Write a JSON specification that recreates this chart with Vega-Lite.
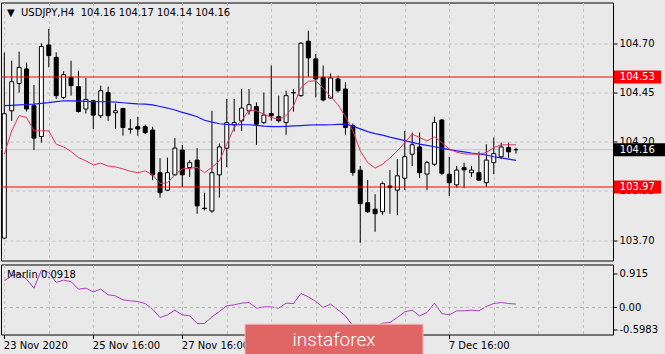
{
  "$schema": "https://vega.github.io/schema/vega-lite/v6.json",
  "background": "#e9e9e9",
  "padding": {"left": 0, "top": 1.5, "right": 4, "bottom": 0},
  "spacing": 2,
  "config": {
    "view": {"stroke": "#000000", "strokeWidth": 1},
    "font": "DejaVu Sans",
    "axis": {"labelFont": "DejaVu Sans", "labelFontSize": 10, "labelColor": "#000000", "tickColor": "#000000", "gridColor": "#c2c2c2", "gridDash": [3, 3], "domain": false}
  },
  "datasets": {
    "candles": [
      {"i":0,"o":103.710,"h":104.654,"l":103.705,"c":104.343,"blue":104.384,"red":104.137,"m":0.711},
      {"i":1,"o":104.358,"h":104.613,"l":104.307,"c":104.506,"blue":104.386,"red":104.256,"m":0.844},
      {"i":2,"o":104.497,"h":104.659,"l":104.451,"c":104.579,"blue":104.388,"red":104.333,"m":0.907},
      {"i":3,"o":104.571,"h":104.604,"l":104.354,"c":104.367,"blue":104.390,"red":104.324,"m":0.756},
      {"i":4,"o":104.384,"h":104.489,"l":104.158,"c":104.219,"blue":104.392,"red":104.256,"m":0.516},
      {"i":5,"o":104.227,"h":104.702,"l":104.196,"c":104.685,"blue":104.396,"red":104.256,"m":0.996},
      {"i":6,"o":104.693,"h":104.775,"l":104.579,"c":104.639,"blue":104.400,"red":104.256,"m":0.933},
      {"i":7,"o":104.630,"h":104.656,"l":104.418,"c":104.435,"blue":104.405,"red":104.188,"m":0.667},
      {"i":8,"o":104.426,"h":104.559,"l":104.418,"c":104.542,"blue":104.409,"red":104.174,"m":0.729},
      {"i":9,"o":104.528,"h":104.613,"l":104.435,"c":104.486,"blue":104.408,"red":104.151,"m":0.693},
      {"i":10,"o":104.481,"h":104.562,"l":104.350,"c":104.354,"blue":104.407,"red":104.120,"m":0.489},
      {"i":11,"o":104.367,"h":104.525,"l":104.344,"c":104.416,"blue":104.406,"red":104.103,"m":0.516},
      {"i":12,"o":104.409,"h":104.412,"l":104.265,"c":104.336,"blue":104.405,"red":104.083,"m":0.418},
      {"i":13,"o":104.333,"h":104.486,"l":104.321,"c":104.460,"blue":104.404,"red":104.091,"m":0.489},
      {"i":14,"o":104.451,"h":104.481,"l":104.307,"c":104.333,"blue":104.404,"red":104.077,"m":0.338},
      {"i":15,"o":104.348,"h":104.395,"l":104.265,"c":104.358,"blue":104.402,"red":104.072,"m":0.311},
      {"i":16,"o":104.370,"h":104.372,"l":104.231,"c":104.273,"blue":104.399,"red":104.062,"m":0.204},
      {"i":17,"o":104.266,"h":104.316,"l":104.242,"c":104.264,"blue":104.396,"red":104.050,"m":0.178},
      {"i":18,"o":104.277,"h":104.328,"l":104.231,"c":104.265,"blue":104.393,"red":104.043,"m":0.160},
      {"i":19,"o":104.277,"h":104.287,"l":104.239,"c":104.247,"blue":104.392,"red":104.052,"m":0.107},
      {"i":20,"o":104.260,"h":104.277,"l":104.005,"c":104.032,"blue":104.388,"red":104.032,"m":-0.044},
      {"i":21,"o":104.043,"h":104.117,"l":103.916,"c":103.941,"blue":104.380,"red":103.987,"m":-0.267},
      {"i":22,"o":103.954,"h":104.120,"l":103.950,"c":104.043,"blue":104.372,"red":103.992,"m":-0.196},
      {"i":23,"o":104.032,"h":104.219,"l":104.027,"c":104.168,"blue":104.362,"red":104.032,"m":-0.071},
      {"i":24,"o":104.158,"h":104.185,"l":103.970,"c":104.032,"blue":104.350,"red":104.062,"m":-0.196},
      {"i":25,"o":104.069,"h":104.107,"l":104.021,"c":104.094,"blue":104.340,"red":104.065,"m":-0.222},
      {"i":26,"o":104.107,"h":104.168,"l":103.834,"c":103.874,"blue":104.328,"red":104.070,"m":-0.427},
      {"i":27,"o":103.862,"h":103.941,"l":103.851,"c":103.860,"blue":104.310,"red":104.043,"m":-0.427},
      {"i":28,"o":103.848,"h":104.358,"l":103.839,"c":104.043,"blue":104.300,"red":104.070,"m":-0.249},
      {"i":29,"o":104.032,"h":104.191,"l":103.916,"c":104.174,"blue":104.292,"red":104.103,"m":-0.107},
      {"i":30,"o":104.168,"h":104.418,"l":104.072,"c":104.298,"blue":104.289,"red":104.188,"m":0.044},
      {"i":31,"o":104.287,"h":104.418,"l":104.253,"c":104.298,"blue":104.288,"red":104.273,"m":0.071},
      {"i":32,"o":104.307,"h":104.469,"l":104.256,"c":104.372,"blue":104.287,"red":104.307,"m":0.116},
      {"i":33,"o":104.358,"h":104.469,"l":104.338,"c":104.389,"blue":104.287,"red":104.362,"m":0.133},
      {"i":34,"o":104.379,"h":104.401,"l":104.185,"c":104.290,"blue":104.284,"red":104.358,"m":-0.018},
      {"i":35,"o":104.298,"h":104.451,"l":104.290,"c":104.336,"blue":104.280,"red":104.341,"m":0.018},
      {"i":36,"o":104.344,"h":104.588,"l":104.307,"c":104.333,"blue":104.277,"red":104.324,"m":0.018},
      {"i":37,"o":104.328,"h":104.435,"l":104.298,"c":104.307,"blue":104.277,"red":104.316,"m":-0.018},
      {"i":38,"o":104.298,"h":104.460,"l":104.236,"c":104.435,"blue":104.279,"red":104.333,"m":0.116},
      {"i":39,"o":104.449,"h":104.469,"l":104.354,"c":104.451,"blue":104.281,"red":104.384,"m":0.107},
      {"i":40,"o":104.435,"h":104.707,"l":104.430,"c":104.702,"blue":104.283,"red":104.477,"m":0.373},
      {"i":41,"o":104.712,"h":104.766,"l":104.532,"c":104.627,"blue":104.285,"red":104.508,"m":0.284},
      {"i":42,"o":104.622,"h":104.647,"l":104.426,"c":104.520,"blue":104.287,"red":104.511,"m":0.160},
      {"i":43,"o":104.528,"h":104.588,"l":104.406,"c":104.413,"blue":104.286,"red":104.473,"m":0.000},
      {"i":44,"o":104.423,"h":104.548,"l":104.418,"c":104.525,"blue":104.287,"red":104.430,"m":0.089},
      {"i":45,"o":104.520,"h":104.537,"l":104.451,"c":104.460,"blue":104.289,"red":104.389,"m":-0.062},
      {"i":46,"o":104.469,"h":104.503,"l":104.236,"c":104.273,"blue":104.290,"red":104.328,"m":-0.222},
      {"i":47,"o":104.282,"h":104.293,"l":104.027,"c":104.043,"blue":104.280,"red":104.256,"m":-0.489},
      {"i":48,"o":104.056,"h":104.077,"l":103.686,"c":103.885,"blue":104.266,"red":104.154,"m":-0.711},
      {"i":49,"o":103.890,"h":104.005,"l":103.839,"c":103.844,"blue":104.252,"red":104.094,"m":-0.667},
      {"i":50,"o":103.857,"h":103.933,"l":103.742,"c":103.834,"blue":104.242,"red":104.066,"m":-0.533},
      {"i":51,"o":103.844,"h":103.997,"l":103.827,"c":103.987,"blue":104.234,"red":104.086,"m":-0.418},
      {"i":52,"o":103.975,"h":104.056,"l":103.834,"c":103.967,"blue":104.224,"red":104.118,"m":-0.400},
      {"i":53,"o":103.954,"h":104.112,"l":103.827,"c":104.027,"blue":104.215,"red":104.154,"m":-0.267},
      {"i":54,"o":104.015,"h":104.256,"l":103.954,"c":104.124,"blue":104.206,"red":104.196,"m":-0.116},
      {"i":55,"o":104.137,"h":104.247,"l":104.077,"c":104.185,"blue":104.197,"red":104.239,"m":-0.071},
      {"i":56,"o":104.174,"h":104.247,"l":104.015,"c":104.043,"blue":104.188,"red":104.222,"m":-0.222},
      {"i":57,"o":104.036,"h":104.103,"l":103.954,"c":104.094,"blue":104.182,"red":104.205,"m":-0.133},
      {"i":58,"o":104.086,"h":104.328,"l":104.077,"c":104.298,"blue":104.175,"red":104.225,"m":0.116},
      {"i":59,"o":104.311,"h":104.316,"l":104.032,"c":104.040,"blue":104.168,"red":104.196,"m":-0.160},
      {"i":60,"o":104.035,"h":104.124,"l":103.924,"c":103.992,"blue":104.160,"red":104.163,"m":-0.196},
      {"i":61,"o":103.981,"h":104.077,"l":103.967,"c":104.056,"blue":104.154,"red":104.147,"m":-0.089},
      {"i":62,"o":104.069,"h":104.094,"l":103.964,"c":104.057,"blue":104.149,"red":104.139,"m":-0.089},
      {"i":63,"o":104.043,"h":104.077,"l":104.021,"c":104.056,"blue":104.143,"red":104.137,"m":-0.071},
      {"i":64,"o":104.043,"h":104.150,"l":104.001,"c":104.005,"blue":104.138,"red":104.137,"m":-0.089},
      {"i":65,"o":103.992,"h":104.188,"l":103.970,"c":104.107,"blue":104.133,"red":104.145,"m":0.027},
      {"i":66,"o":104.094,"h":104.222,"l":104.035,"c":104.140,"blue":104.124,"red":104.171,"m":0.107},
      {"i":67,"o":104.124,"h":104.196,"l":104.112,"c":104.174,"blue":104.118,"red":104.185,"m":0.133},
      {"i":68,"o":104.171,"h":104.196,"l":104.117,"c":104.149,"blue":104.112,"red":104.185,"m":0.107},
      {"i":69,"o":104.160,"h":104.170,"l":104.140,"c":104.160,"blue":104.106,"red":104.185,"m":0.092}
    ],
    "levels": [
      {"price": 104.53, "label": "104.53"},
      {"price": 103.97, "label": "103.97"}
    ],
    "last": [
      {"price": 104.16, "label": "104.16"}
    ],
    "header": [
      {"text": "▼\u00a0\u00a0USDJPY,H4\u00a0\u00a0104.16\u00a0104.17\u00a0104.14\u00a0104.16"}
    ],
    "indicator": [
      {"text": "Marlin 0.0918"}
    ],
    "zero": [
      {"v": 0, "label": "0.00"}
    ],
    "wm": [
      {"text": "instaforex"}
    ]
  },
  "vconcat": [
    {
      "width": 612,
      "height": 258,
      "layer": [
        {
          "data": {"name": "last"},
          "mark": {"type": "rule", "color": "#c4c4c4", "strokeWidth": 1},
          "encoding": {
            "y": {"field": "price", "type": "quantitative", "title": null,
              "scale": {"domain": [103.5959, 104.9093], "nice": false, "zero": false, "padding": 0},
              "axis": {"orient": "right", "values": [103.7, 103.95, 104.2, 104.45, 104.7], "format": ".2f", "tickSize": 4, "labelPadding": 2, "labelOverlap": false, "grid": true, "title": null}}
          }
        },
        {
          "data": {"name": "candles"},
          "mark": {"type": "rule", "color": "#000000", "strokeWidth": 1},
          "encoding": {
            "x": {"field": "i", "type": "quantitative", "title": null,
              "scale": {"domain": [-0.445, 82.08], "nice": false, "zero": false, "padding": 0},
              "axis": {"values": [0, 6, 12, 18, 24, 30, 36, 42, 48, 54, 60, 66, 72, 78], "labels": false, "ticks": false, "grid": true, "title": null}},
            "y": {"field": "l", "type": "quantitative", "title": null},
            "y2": {"field": "h"}
          }
        },
        {
          "data": {"name": "candles"},
          "mark": {"type": "bar", "orient": "vertical", "size": 4, "stroke": "#000000", "strokeWidth": 1},
          "encoding": {
            "x": {"field": "i", "type": "quantitative", "title": null},
            "y": {"field": "o", "type": "quantitative", "title": null},
            "y2": {"field": "c"},
            "fill": {"condition": {"test": "datum.c >= datum.o", "value": "#ffffff"}, "value": "#000000"}
          }
        },
        {
          "data": {"name": "candles"},
          "mark": {"type": "line", "color": "#1a1aff", "strokeWidth": 1.2},
          "encoding": {
            "x": {"field": "i", "type": "quantitative", "title": null},
            "y": {"field": "blue", "type": "quantitative", "title": null}
          }
        },
        {
          "data": {"name": "candles"},
          "mark": {"type": "line", "color": "#e2345f", "strokeWidth": 1},
          "encoding": {
            "x": {"field": "i", "type": "quantitative", "title": null},
            "y": {"field": "red", "type": "quantitative", "title": null}
          }
        },
        {
          "data": {"name": "levels"},
          "mark": {"type": "rule", "color": "#ff0000", "strokeWidth": 1},
          "encoding": {
            "y": {"field": "price", "type": "quantitative", "title": null}
          }
        },
        {
          "data": {"name": "levels"},
          "mark": {"type": "bar", "orient": "horizontal", "size": 13, "color": "#ff0000"},
          "encoding": {
            "x": {"datum": 82.21, "type": "quantitative"},
            "x2": {"datum": 88.55},
            "y": {"field": "price", "type": "quantitative", "title": null}
          }
        },
        {
          "data": {"name": "last"},
          "mark": {"type": "bar", "orient": "horizontal", "size": 13, "color": "#000000"},
          "encoding": {
            "x": {"datum": 82.21, "type": "quantitative"},
            "x2": {"datum": 89.1},
            "y": {"field": "price", "type": "quantitative", "title": null}
          }
        },
        {
          "data": {"name": "levels"},
          "mark": {"type": "text", "align": "left", "baseline": "middle", "color": "#ffffff", "fontSize": 10, "font": "DejaVu Sans"},
          "encoding": {
            "x": {"datum": 83.0, "type": "quantitative"},
            "y": {"field": "price", "type": "quantitative", "title": null},
            "text": {"field": "label"}
          }
        },
        {
          "data": {"name": "last"},
          "mark": {"type": "text", "align": "left", "baseline": "middle", "color": "#ffffff", "fontSize": 10, "font": "DejaVu Sans"},
          "encoding": {
            "x": {"datum": 83.0, "type": "quantitative"},
            "y": {"field": "price", "type": "quantitative", "title": null},
            "text": {"field": "label"}
          }
        },
        {
          "data": {"name": "header"},
          "mark": {"type": "text", "align": "left", "baseline": "middle", "color": "#000000", "fontSize": 10, "font": "DejaVu Sans"},
          "encoding": {
            "x": {"datum": 0.36, "type": "quantitative"},
            "y": {"datum": 104.858, "type": "quantitative"},
            "text": {"field": "text"}
          }
        }
      ]
    },
    {
      "width": 612,
      "height": 70,
      "layer": [
        {
          "data": {"name": "candles"},
          "mark": {"type": "line", "color": "#b03cc4", "strokeWidth": 1},
          "encoding": {
            "x": {"field": "i", "type": "quantitative", "title": null,
              "scale": {"domain": [-0.445, 82.08], "nice": false, "zero": false, "padding": 0},
              "axis": {"values": [0, 6, 12, 18, 24, 30, 36, 42, 48, 54, 60, 66, 72, 78], "grid": true, "title": null, "tickSize": 4, "labelPadding": 2, "labelAlign": "left", "labelOffset": -1, "labelOverlap": false, "labelFlush": false, "labelBound": false,
                "tickOpacity": {"condition": {"test": "datum.value % 12 == 0 && datum.value <= 60", "value": 1}, "value": 0},
                "labelExpr": "datum.value == 0 ? '23 Nov 2020' : datum.value == 12 ? '25 Nov 16:00' : datum.value == 24 ? '27 Nov 16:00' : datum.value == 36 ? '1 Dec 16:00' : datum.value == 48 ? '3 Dec 16:00' : datum.value == 60 ? '7 Dec 16:00' : ''"}},
            "y": {"field": "m", "type": "quantitative", "title": null,
              "scale": {"domain": [-0.72, 1.147], "nice": false, "zero": false, "padding": 0},
              "axis": {"orient": "right", "values": [-0.5983, 0.915], "tickSize": 4, "labelPadding": 2, "labelOverlap": false, "labelFlush": false, "grid": false, "title": null,
                "labelExpr": "datum.value > 0.5 ? '0.915' : '-0.5983'"}}
          }
        },
        {
          "data": {"name": "zero"},
          "mark": {"type": "rule", "color": "#b8b8b8", "strokeDash": [3, 3], "strokeWidth": 1},
          "encoding": {
            "y": {"field": "v", "type": "quantitative", "title": null}
          }
        },
        {
          "data": {"name": "zero"},
          "mark": {"type": "rule", "color": "#000000", "strokeWidth": 1, "clip": false},
          "encoding": {
            "x": {"datum": 82.08, "type": "quantitative"},
            "x2": {"datum": 82.62},
            "y": {"field": "v", "type": "quantitative", "title": null}
          }
        },
        {
          "data": {"name": "zero"},
          "mark": {"type": "text", "align": "left", "baseline": "middle", "color": "#000000", "fontSize": 10, "font": "DejaVu Sans"},
          "encoding": {
            "x": {"datum": 82.9, "type": "quantitative"},
            "y": {"field": "v", "type": "quantitative", "title": null},
            "text": {"field": "label"}
          }
        },
        {
          "data": {"name": "indicator"},
          "mark": {"type": "text", "align": "left", "baseline": "middle", "color": "#000000", "fontSize": 10, "font": "DejaVu Sans"},
          "encoding": {
            "x": {"datum": 0.36, "type": "quantitative"},
            "y": {"datum": 0.854, "type": "quantitative"},
            "text": {"field": "text"}
          }
        },
        {
          "data": {"name": "wm"},
          "mark": {"type": "rect", "fill": "#e06666", "stroke": "#f2b6b6", "strokeWidth": 1, "clip": false},
          "encoding": {
            "x": {"datum": 32.46, "type": "quantitative"},
            "x2": {"datum": 56.46},
            "y": {"datum": -0.445, "type": "quantitative"},
            "y2": {"datum": -1.307}
          }
        },
        {
          "data": {"name": "wm"},
          "mark": {"type": "text", "align": "center", "baseline": "middle", "color": "#ffffff", "fontSize": 19, "font": "Roboto", "fontWeight": 300},
          "encoding": {
            "x": {"datum": 44.46, "type": "quantitative"},
            "y": {"datum": -0.88, "type": "quantitative"},
            "text": {"field": "text"}
          }
        }
      ]
    }
  ]
}
